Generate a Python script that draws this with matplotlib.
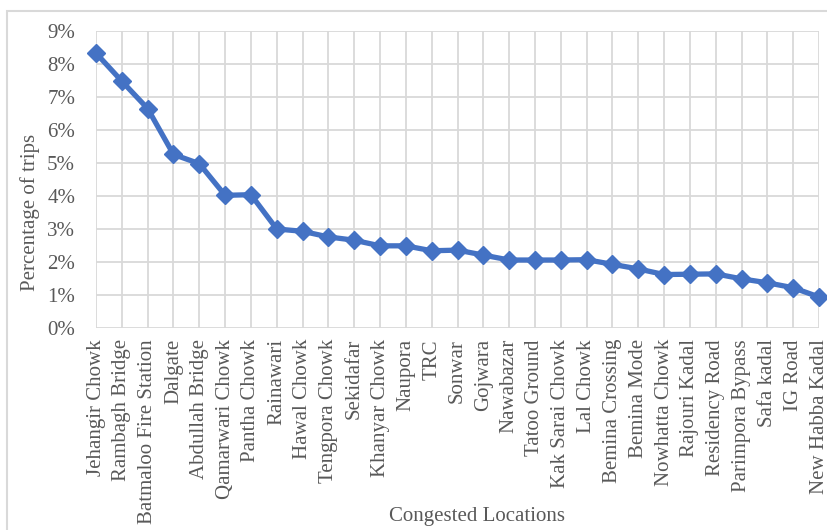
import matplotlib
matplotlib.use("Agg")
import matplotlib.pyplot as plt
from matplotlib.patches import Rectangle
from matplotlib.ticker import FuncFormatter, MultipleLocator

# Share of trips passing through each congested location (%)
locations = [
    "Jehangir Chowk", "Rambagh Bridge", "Batmaloo Fire Station", "Dalgate",
    "Abdullah Bridge", "Qamarwari Chowk", "Pantha Chowk", "Rainawari",
    "Hawal Chowk", "Tengpora Chowk", "Sekidafar", "Khanyar Chowk", "Naupora",
    "TRC", "Sonwar", "Gojwara", "Nawabazar", "Tatoo Ground", "Kak Sarai Chowk",
    "Lal Chowk", "Bemina Crossing", "Bemina Mode", "Nowhatta Chowk",
    "Rajouri Kadal", "Residency Road", "Parimpora Bypass", "Safa kadal",
    "IG Road", "New Habba Kadal",
]
trip_share = [
    8.33, 7.48, 6.65, 5.26, 4.98, 4.02, 4.04, 3.00, 2.93, 2.76, 2.66, 2.49,
    2.49, 2.34, 2.36, 2.21, 2.06, 2.06, 2.06, 2.07, 1.93, 1.79, 1.62, 1.63,
    1.64, 1.49, 1.37, 1.22, 0.94,
]

plt.rcParams["font.family"] = ["Liberation Serif", "DejaVu Serif"]
text_grey = "#595959"
grid_grey = "#D9D9D9"
line_blue = "#4472C4"

fig = plt.figure(figsize=(8.27, 5.30), dpi=100)
W, H = 827, 530

# chart area frame
fig.patches.append(Rectangle((6.5 / W, -0.1), 1.0, 1 - 11 / H + 0.1,
                             transform=fig.transFigure, fill=False,
                             edgecolor=grid_grey, linewidth=1.5))

ax = fig.add_axes([96 / W, 1 - 328 / H, (819 - 96) / W, (328 - 31) / H])
x = list(range(len(locations)))
ax.plot(x, trip_share, color=line_blue, linewidth=3.8, marker="D",
        markersize=9.5, clip_on=False, zorder=3)

ax.set_xlim(0, len(locations) - 1)
ax.set_ylim(0, 9)
ax.yaxis.set_major_locator(MultipleLocator(1))
ax.yaxis.set_major_formatter(FuncFormatter(lambda v, p: f"{v:.0f}%"))
ax.set_xticks(x)
ax.set_xticklabels(locations, rotation=90, fontsize=15, color=text_grey)
ax.tick_params(axis="y", labelsize=15, labelcolor=text_grey, length=0, pad=15)
ax.tick_params(axis="x", length=0, pad=8)

ax.grid(True, color=grid_grey, linewidth=1.3)
ax.set_axisbelow(True)
for s in ax.spines.values():
    s.set_visible(False)

fig.text(30 / W, 1 - 212 / H, "Percentage of trips", rotation=90,
         ha="center", va="center", fontsize=15, color=text_grey)
fig.text(477 / W, 1 - 517 / H, "Congested Locations", ha="center",
         va="center", fontsize=15, color=text_grey)

fig.savefig("out.png", dpi=100)
